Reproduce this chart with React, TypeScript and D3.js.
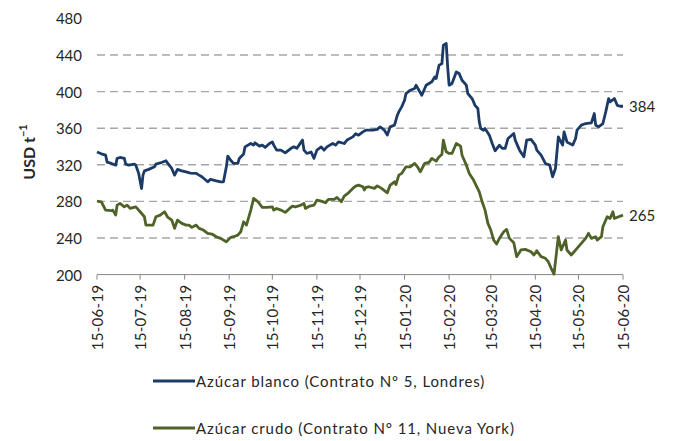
import * as d3 from "d3";

// Azúcar blanco (Londres)
const blancoDates = [
  "2019-06-15", "2019-06-18", "2019-06-21", "2019-06-22", "2019-06-25", "2019-06-28", "2019-06-29",
  "2019-07-01", "2019-07-04", "2019-07-05", "2019-07-07", "2019-07-11", "2019-07-12", "2019-07-14",
  "2019-07-16", "2019-07-17", "2019-07-18", "2019-07-21", "2019-07-25", "2019-07-26", "2019-07-29",
  "2019-08-02", "2019-08-03", "2019-08-06", "2019-08-08", "2019-08-10", "2019-08-13", "2019-08-16",
  "2019-08-19", "2019-08-23", "2019-08-25", "2019-08-27", "2019-08-31", "2019-09-02", "2019-09-06",
  "2019-09-09", "2019-09-11", "2019-09-13", "2019-09-14", "2019-09-16", "2019-09-18", "2019-09-21",
  "2019-09-22", "2019-09-25", "2019-09-26", "2019-09-30", "2019-10-02", "2019-10-03", "2019-10-06",
  "2019-10-08", "2019-10-10", "2019-10-13", "2019-10-15", "2019-10-16", "2019-10-18", "2019-10-21",
  "2019-10-24", "2019-10-28", "2019-10-30", "2019-11-01", "2019-11-05", "2019-11-06", "2019-11-08",
  "2019-11-11", "2019-11-13", "2019-11-15", "2019-11-18", "2019-11-20", "2019-11-22", "2019-11-26",
  "2019-11-28", "2019-11-30", "2019-12-04", "2019-12-06", "2019-12-10", "2019-12-12", "2019-12-14",
  "2019-12-17", "2019-12-19", "2019-12-24", "2019-12-27", "2019-12-29", "2020-01-01", "2020-01-03",
  "2020-01-05", "2020-01-08", "2020-01-10", "2020-01-11", "2020-01-13", "2020-01-15", "2020-01-16",
  "2020-01-19", "2020-01-22", "2020-01-23", "2020-01-25", "2020-01-27", "2020-01-30", "2020-02-01",
  "2020-02-03", "2020-02-05", "2020-02-06", "2020-02-08", "2020-02-10", "2020-02-11", "2020-02-13",
  "2020-02-14", "2020-02-15", "2020-02-17", "2020-02-20", "2020-02-22", "2020-02-24", "2020-02-27",
  "2020-02-28", "2020-03-02", "2020-03-04", "2020-03-06", "2020-03-07", "2020-03-08", "2020-03-10",
  "2020-03-11", "2020-03-14", "2020-03-16", "2020-03-18", "2020-03-21", "2020-03-23", "2020-03-25",
  "2020-03-27", "2020-03-31", "2020-04-01", "2020-04-04", "2020-04-07", "2020-04-09", "2020-04-12",
  "2020-04-15", "2020-04-16", "2020-04-19", "2020-04-22", "2020-04-25", "2020-04-27", "2020-04-29",
  "2020-05-01", "2020-05-04", "2020-05-05", "2020-05-07", "2020-05-11", "2020-05-13", "2020-05-14",
  "2020-05-17", "2020-05-20", "2020-05-24", "2020-05-26", "2020-05-27", "2020-05-29", "2020-06-01",
  "2020-06-03", "2020-06-05", "2020-06-06", "2020-06-09", "2020-06-11", "2020-06-13", "2020-06-15",
];
const blancoValues = [
  334, 332, 330.5, 323, 321.5, 319.6, 327,
  328, 327, 320.7, 319.6, 320.7, 319.6, 310.6,
  294, 308.7, 313.4, 315, 317.8, 320.7, 322,
  324.4, 322, 316, 308.7, 315, 313.4, 312.3,
  311, 310.6, 308.7, 306.9, 301.4, 304, 302.5,
  301.4, 301.4, 317.8, 329.5, 325, 321.5, 321.5,
  327, 331.7, 339.6, 343.3, 341.5, 344, 340.4,
  341.5, 339, 343.3, 345, 341.5, 336, 336,
  333, 338, 339.6, 338, 347, 336, 332.4,
  334, 327, 336, 339.6, 336, 339.6, 343.3,
  341.5, 345, 343.3, 347, 350.5, 354, 352.4,
  356, 357.8, 357.8, 358.6, 361.5, 357.8, 352.4,
  361.5, 363.3, 374.2, 377.8, 383.3, 390.6, 397.9,
  401.5, 403.4, 407, 401.5, 396, 407, 408.9,
  410.7, 416, 414.3, 428.8, 430.6, 450.6, 452.5,
  427, 407, 408.9, 421.5, 419.7, 412.4, 407,
  397.9, 392.4, 385, 381.5, 366.9, 359.7, 357.8,
  359.7, 352.4, 343.3, 335.3, 341.5, 337.9, 337.9,
  348.8, 354.2, 347, 336, 328.7, 347, 347.7,
  341.5, 336, 330.5, 321.5, 319.6, 306.9, 316,
  350.5, 341.5, 356, 345, 341.5, 348.8, 357.8,
  363.3, 365.1, 365.8, 376, 363.3, 361.5, 365.1,
  377.8, 392.4, 388.8, 392.4, 385, 384, 384,
];

// Azúcar crudo (Nueva York)
const crudoDates = [
  "2019-06-15", "2019-06-18", "2019-06-21", "2019-06-25", "2019-06-26", "2019-06-28", "2019-06-29",
  "2019-07-01", "2019-07-04", "2019-07-06", "2019-07-08", "2019-07-12", "2019-07-15", "2019-07-18",
  "2019-07-19", "2019-07-21", "2019-07-24", "2019-07-26", "2019-07-29", "2019-08-01", "2019-08-03",
  "2019-08-06", "2019-08-08", "2019-08-10", "2019-08-13", "2019-08-16", "2019-08-18", "2019-08-20",
  "2019-08-23", "2019-08-25", "2019-08-28", "2019-08-31", "2019-09-03", "2019-09-06", "2019-09-09",
  "2019-09-13", "2019-09-16", "2019-09-18", "2019-09-21", "2019-09-23", "2019-09-25", "2019-09-27",
  "2019-09-30", "2019-10-02", "2019-10-05", "2019-10-08", "2019-10-11", "2019-10-15", "2019-10-16",
  "2019-10-18", "2019-10-21", "2019-10-24", "2019-10-27", "2019-10-29", "2019-10-31", "2019-11-04",
  "2019-11-06", "2019-11-07", "2019-11-10", "2019-11-13", "2019-11-15", "2019-11-18", "2019-11-21",
  "2019-11-23", "2019-11-27", "2019-11-29", "2019-12-02", "2019-12-04", "2019-12-07", "2019-12-10",
  "2019-12-12", "2019-12-14", "2019-12-17", "2019-12-18", "2019-12-19", "2019-12-21", "2019-12-25",
  "2019-12-27", "2019-12-30", "2020-01-03", "2020-01-05", "2020-01-08", "2020-01-09", "2020-01-11",
  "2020-01-13", "2020-01-16", "2020-01-19", "2020-01-22", "2020-01-24", "2020-01-26", "2020-01-29",
  "2020-02-01", "2020-02-03", "2020-02-06", "2020-02-08", "2020-02-10", "2020-02-11", "2020-02-13",
  "2020-02-15", "2020-02-17", "2020-02-20", "2020-02-23", "2020-02-24", "2020-02-27", "2020-02-29",
  "2020-03-03", "2020-03-07", "2020-03-09", "2020-03-11", "2020-03-13", "2020-03-15", "2020-03-17",
  "2020-03-19", "2020-03-21", "2020-03-24", "2020-03-26", "2020-03-28", "2020-03-31", "2020-04-02",
  "2020-04-05", "2020-04-08", "2020-04-12", "2020-04-14", "2020-04-16", "2020-04-19", "2020-04-22",
  "2020-04-24", "2020-04-26", "2020-04-28", "2020-05-01", "2020-05-03", "2020-05-06", "2020-05-07",
  "2020-05-10", "2020-05-14", "2020-05-17", "2020-05-20", "2020-05-22", "2020-05-24", "2020-05-27",
  "2020-05-28", "2020-05-31", "2020-06-01", "2020-06-04", "2020-06-06", "2020-06-08", "2020-06-09",
  "2020-06-12", "2020-06-15",
];
const crudoValues = [
  280.3, 279.6, 270.5, 269.8, 270.5, 265, 275.9,
  277.8, 274.1, 275.9, 272.3, 274.1, 268.7, 263.2,
  254.1, 254.1, 254.1, 263.2, 265, 268.7, 263.2,
  259.6, 250.5, 259.6, 256, 254.1, 254.1, 251.6,
  254.1, 250.5, 248.7, 245.1, 244.3, 241.4, 239.6,
  235.9, 240.7, 241.4, 243.2, 246.8, 257.7, 254.1,
  270.5, 283.3, 279.6, 273.5, 273.5, 274.1, 270.5,
  272.3, 270.5, 268, 272.3, 274.9, 274.1, 275.9,
  277.8, 272.3, 274.9, 275.9, 281.4, 280.3, 278.5,
  282.2, 282.2, 284.4, 279.6, 285.8, 289.4, 294.2,
  296.7, 297.8, 296, 292.4, 295.3, 296, 294.2,
  297, 294.2, 289.4, 297.8, 301.4, 298.5, 308.7,
  310.6, 317.8, 317.8, 321.5, 317.8, 312.3, 321.5,
  322.6, 327, 324, 328.7, 331.3, 347, 334.2,
  332.4, 332.4, 343.3, 340.4, 330.5, 319.6, 310.6,
  303.3, 290.5, 279.6, 270.5, 256, 248.7, 237.8,
  233.4, 239.6, 246.8, 249.4, 239.6, 234.8, 219.6,
  226.9, 227.6, 225, 221.4, 226.1, 219.6, 217.8,
  214.1, 206.9, 200.6, 241.4, 226.9, 237.8, 226.9,
  221.4, 228.7, 234.2, 239.6, 245.1, 239.6, 241.4,
  237.8, 241.4, 252.3, 263.2, 261.4, 268.7, 261.4,
  263.2, 265,
];

const xTickLabels = [
  "15-06-19", "15-07-19", "15-08-19", "15-09-19", "15-10-19", "15-11-19", "15-12-19",
  "15-01-20", "15-02-20", "15-03-20", "15-04-20", "15-05-20", "15-06-20",
];
const yTicks = [200, 240, 280, 320, 360, 400, 440, 480];
const gridTicks = [240, 280, 320, 360, 400, 440];

const seriesNames = [
  "Azúcar blanco (Contrato Nº 5, Londres)",
  "Azúcar crudo (Contrato N° 11, Nueva York)",
];
const endLabels = ["384", "265"];

const colors = ["#1b3a66", "#4f6228"];
const font = "Lato, 'Open Sans', sans-serif";
const textColor = "#262626";

const parseDay = d3.timeParse("%Y-%m-%d");
const parseTick = d3.timeParse("%d-%m-%y");

export default function App() {
  const x = d3
    .scaleTime()
    .domain([parseTick(xTickLabels[0])!, parseTick(xTickLabels[xTickLabels.length - 1])!])
    .range([97, 623]);
  const y = d3.scaleLinear().domain([200, 480]).range([274.6, 18.4]);

  const series = [
    blancoDates.map((d, i) => ({ date: parseDay(d)!, value: blancoValues[i] })),
    crudoDates.map((d, i) => ({ date: parseDay(d)!, value: crudoValues[i] })),
  ];

  const line = d3
    .line<{ date: Date; value: number }>()
    .x((d) => x(d.date))
    .y((d) => y(d.value));

  return (
    <svg
      width={675}
      height={441}
      style={{ position: "absolute", left: 0, top: 0, background: "#fff" }}
      fontFamily={font}
    >
      {/* grid */}
      {gridTicks.map((t) => (
        <line
          key={t}
          x1={97}
          x2={623}
          y1={y(t)}
          y2={y(t)}
          stroke="#a6a6a6"
          strokeWidth={1.4}
          strokeDasharray="8,5"
        />
      ))}

      {/* y labels */}
      {yTicks.map((t) => (
        <text
          key={t}
          x={82}
          y={y(t)}
          textAnchor="end"
          dominantBaseline="central"
          fontSize={15}
          fill={textColor}
        >
          {t}
        </text>
      ))}

      <text
        transform={`translate(28,${152}) rotate(-90)`}
        textAnchor="middle"
        dominantBaseline="central"
        fontSize={16}
        fontWeight="bold"
        fill={textColor}
      >
        USD t<tspan dy={-6} fontSize={11}>−1</tspan>
      </text>

      {/* x axis */}
      <line x1={97} x2={623} y1={y(200)} y2={y(200)} stroke="#868686" strokeWidth={1} />
      {xTickLabels.map((lbl) => {
        const tx = x(parseTick(lbl)!);
        return (
          <g key={lbl}>
            <line x1={tx} x2={tx} y1={y(200)} y2={y(200) + 5} stroke="#868686" />
            <text
              transform={`translate(${tx},${y(200) + 10}) rotate(-90)`}
              textAnchor="end"
              dominantBaseline="central"
              fontSize={15}
              letterSpacing={0.3}
              fill={textColor}
            >
              {lbl}
            </text>
          </g>
        );
      })}

      {/* lines */}
      {series.map((s, i) => (
        <path
          key={i}
          d={line(s) || ""}
          fill="none"
          stroke={colors[i]}
          strokeWidth={2.8}
          strokeLinejoin="round"
        />
      ))}

      {/* end labels */}
      {series.map((s, i) => (
        <text
          key={i}
          x={x(s[s.length - 1].date) + 6}
          y={y(s[s.length - 1].value)}
          dominantBaseline="central"
          fontSize={15}
          fill={textColor}
        >
          {endLabels[i]}
        </text>
      ))}

      {/* legend */}
      {seriesNames.map((name, i) => (
        <g key={name} transform={`translate(153,${381 + i * 47})`}>
          <line x1={0} x2={42} y1={0} y2={0} stroke={colors[i]} strokeWidth={2.8} />
          <text
            x={43}
            y={0}
            dominantBaseline="central"
            fontSize={15}
            letterSpacing={0.9}
            fill={textColor}
          >
            {name}
          </text>
        </g>
      ))}
    </svg>
  );
}
